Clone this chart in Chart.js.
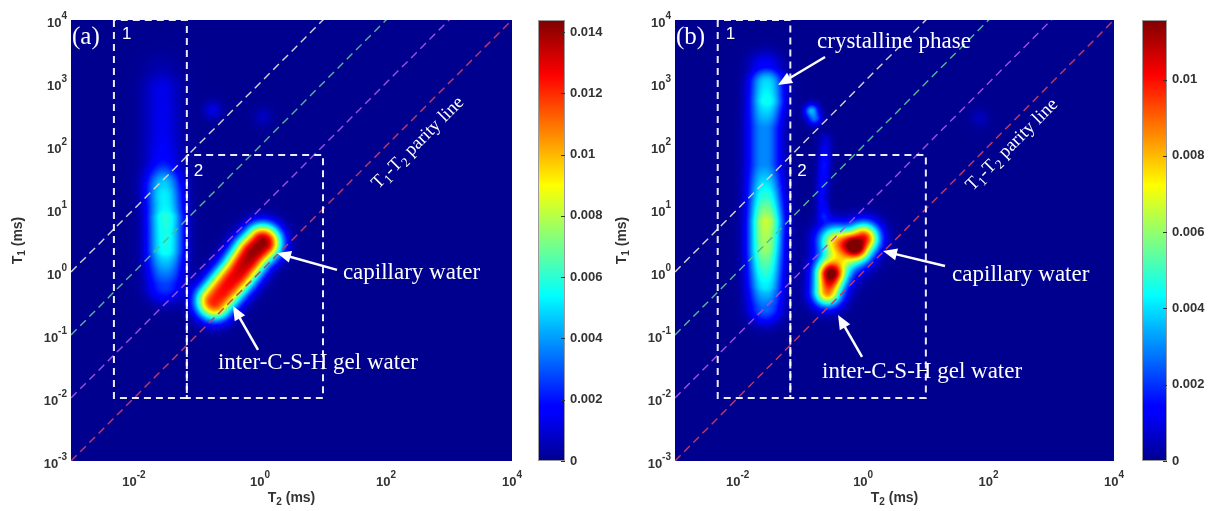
<!DOCTYPE html>
<html>
<head>
<meta charset="utf-8">
<script src="https://cdn.jsdelivr.net/npm/chart.js@4.4.1/dist/chart.umd.min.js"></script>
<style>
html, body { margin: 0; padding: 0; background: #fff; }
#wrap { position: relative; width: 1210px; height: 511px; overflow: hidden; }
canvas { position: absolute; top: 0; }
</style>
</head>
<body>
<div id="wrap">
  <canvas id="mapA" width="530" height="511" style="left:0px"></canvas>
  <canvas id="barA" width="85" height="511" style="left:530px"></canvas>
  <canvas id="mapB" width="528" height="511" style="left:604px"></canvas>
  <canvas id="barB" width="76" height="511" style="left:1134px"></canvas>
</div>
<script>
// ---- axes (ms) ----
const axisMin = 1e-3, axisMax = 1e4;
const t2Ticks = [1e-2, 1, 1e2, 1e4];
const t1Ticks = [1e-3, 1e-2, 1e-1, 1, 1e1, 1e2, 1e3, 1e4];

// ---- colour bars ----
const cbarMaxA = 0.01439;
const cbarTicksA = [0, 0.002, 0.004, 0.006, 0.008, 0.01, 0.012, 0.014];
const cbarMaxB = 0.01156;
const cbarTicksB = [0, 0.002, 0.004, 0.006, 0.008, 0.01];

// ---- reference lines T1 = k * T2 ----
const parityRatios = [1, 10, 100, 1000];
const parityColors = ['#c9385f', '#a24ee0', '#52b994', '#d6d6d6'];

// ---- dashed regions (T2 range, T1 range) ----
const region1T2 = [0.0048, 0.069], region1T1 = [0.01, 1e4];
const region2T2 = [0.069, 10],     region2T1 = [0.01, 72];

// ---- signal ridges: [log10 T2, log10 T1, amplitude] along each ridge ----
const ridgeA_main   = [[-0.72, -0.46, 0.0122], [-0.35, -0.02, 0.0131], [-0.12, 0.30, 0.0141], [0.04, 0.46, 0.0142]];
const ridgeA_col1   = [[-1.51, -0.2, 0.0026], [-1.50, 0.35, 0.0056], [-1.50, 0.85, 0.0058], [-1.53, 1.35, 0.0028]];
const ridgeA_tail   = [[-1.53, 1.35, 0.0020], [-1.55, 2.2, 0.0014], [-1.56, 2.9, 0.0013], [-1.57, 3.15, 0.0005]];
const spotA_1       = [[-0.75, 2.57, 0.0012]];
const spotA_2       = [[0.05, 2.46, 0.0007]];

const lobeB_low     = [[-0.57, -0.32, 0.0082], [-0.53, -0.06, 0.0084]];
const lobeB_high    = [[-0.08, 0.44, 0.0090], [0.02, 0.54, 0.0088]];
const bridgeB       = [[-0.45, 0.05, 0.0045], [-0.20, 0.32, 0.0045]];
const fillB         = [[-0.48, 0.50, 0.0058]];
const ridgeB_col1   = [[-1.56, -0.55, 0.0026], [-1.56, -0.2, 0.0042], [-1.56, 0.35, 0.0060], [-1.55, 0.8, 0.0066],
                       [-1.56, 1.2, 0.0048], [-1.58, 1.7, 0.0030], [-1.58, 2.3, 0.0030], [-1.54, 2.72, 0.0045],
                       [-1.54, 2.98, 0.0040], [-1.56, 3.22, 0.0014]];
const spotB_small   = [[-0.82, 2.55, 0.0036], [-0.78, 2.45, 0.0028]];
const streakB       = [[-0.60, 2.1, 0.0008], [-0.62, 1.7, 0.0016], [-0.66, 1.2, 0.0012], [-0.63, 0.9, 0.0014]];
const spotB_far     = [[1.86, 2.44, 0.0005]];

// spread (decades) and profile shape of each ridge
const featuresA = [
  { pts: ridgeA_main, s: 0.21, p: 1.2 },
  { pts: ridgeA_col1, s: 0.2, p: 1.2 },
  { pts: ridgeA_tail, s: 0.2, p: 1 },
  { pts: spotA_1, s: 0.1, p: 1 },
  { pts: spotA_2, s: 0.1, p: 1 }
];
const featuresB = [
  { pts: lobeB_low, s: 0.16, p: 1 },
  { pts: lobeB_high, s: 0.17, p: 1 },
  { pts: bridgeB, s: 0.2, p: 1 },
  { pts: fillB, s: 0.18, p: 1 },
  { pts: ridgeB_col1, s: 0.19, p: 1.2 },
  { pts: spotB_small, s: 0.08, p: 1 },
  { pts: streakB, s: 0.07, p: 1 },
  { pts: spotB_far, s: 0.1, p: 1 }
];

// ---- annotations (T2, T1 in ms) ----
const notesA = [
  { text: 'capillary water', at: [20.7, 0.964], tail: [16.7, 1.08], head: [1.86, 2.0] },
  { text: 'inter-C-S-H gel water', at: [0.215, 0.036], tail: [0.93, 0.058], head: [0.372, 0.288] }
];
const notesB = [
  { text: 'crystalline phase', at: [0.184, 4477], tail: [0.247, 2588], head: [0.044, 929] },
  { text: 'capillary water', at: [26.2, 0.895], tail: [20.2, 1.245], head: [2.07, 2.15] },
  { text: 'inter-C-S-H gel water', at: [0.221, 0.0259], tail: [0.96, 0.0448], head: [0.398, 0.207] }
];
const parityLabelA = [322, 112];
const parityLabelB = [237, 104];

const SERIF = '"Liberation Serif", "Times New Roman", serif';
const SANS = '"Liberation Sans", Arial, sans-serif';
const TEXT_GREY = '#333333';

function clamp01(v) { return v < 0 ? 0 : v > 1 ? 1 : v; }

// MATLAB-like jet
function jet(v) {
  v = clamp01(v);
  const r = clamp01(Math.min(4 * v - 1.5, -4 * v + 4.5));
  const g = clamp01(Math.min(4 * v - 0.5, -4 * v + 3.5));
  const b = clamp01(Math.min(4 * v + 0.5625, -4 * v + 2.5));
  return [Math.round(r * 255), Math.round(g * 255), Math.round(b * 255)];
}

// sum of ridges; along one ridge the nearest segment counts
function fieldAt(features, lx, ly) {
  let total = 0;
  for (const f of features) {
    const pts = f.pts, s2 = 2 * f.s * f.s, p = f.p;
    let best = 0;
    if (pts.length === 1) {
      const d2 = (lx - pts[0][0]) ** 2 + (ly - pts[0][1]) ** 2;
      best = pts[0][2] * Math.exp(-Math.pow(d2 / s2, p));
    }
    for (let k = 0; k < pts.length - 1; k++) {
      const x0 = pts[k][0], y0 = pts[k][1], a0 = pts[k][2];
      const x1 = pts[k + 1][0], y1 = pts[k + 1][1], a1 = pts[k + 1][2];
      const dx = x1 - x0, dy = y1 - y0;
      let t = ((lx - x0) * dx + (ly - y0) * dy) / (dx * dx + dy * dy);
      t = t < 0 ? 0 : t > 1 ? 1 : t;
      const d2 = (lx - x0 - t * dx) ** 2 + (ly - y0 - t * dy) ** 2;
      const v = (a0 + t * (a1 - a0)) * Math.exp(-Math.pow(d2 / s2, p));
      if (v > best) best = v;
    }
    total += best;
  }
  return total;
}

function heatmapPlugin(features, vmax) {
  let cache = null;
  return {
    id: 'heatmap',
    beforeDatasetsDraw(chart) {
      const a = chart.chartArea, sx = chart.scales.x, sy = chart.scales.y;
      const w = Math.round(a.right - a.left), h = Math.round(a.bottom - a.top);
      if (!cache) {
        const xs = [], ys = [];
        for (let i = 0; i < w; i++) xs.push(Math.log10(sx.getValueForPixel(a.left + i + 0.5)));
        for (let j = 0; j < h; j++) ys.push(Math.log10(sy.getValueForPixel(a.top + j + 0.5)));
        cache = document.createElement('canvas');
        cache.width = w; cache.height = h;
        const cctx = cache.getContext('2d');
        const img = cctx.createImageData(w, h);
        for (let j = 0; j < h; j++) {
          for (let i = 0; i < w; i++) {
            const c = jet(fieldAt(features, xs[i], ys[j]) / vmax);
            const o = (j * w + i) * 4;
            img.data[o] = c[0]; img.data[o + 1] = c[1]; img.data[o + 2] = c[2]; img.data[o + 3] = 255;
          }
        }
        cctx.putImageData(img, 0, 0);
      }
      chart.ctx.drawImage(cache, a.left, a.top);
    }
  };
}

// segs: [text, kind] kind 0 normal, 1 subscript, -1 superscript
function drawRich(ctx, segs, x, y, size, family, weight, align, ratio) {
  ratio = ratio || 0.7;
  const parts = segs.map(([t, k]) => {
    const fs = k ? Math.round(size * ratio) : size;
    ctx.font = `${weight} ${fs}px ${family}`;
    return { t, k, fs, w: ctx.measureText(t).width };
  });
  const total = parts.reduce((s, p) => s + p.w, 0);
  let cx = align === 'center' ? x - total / 2 : align === 'right' ? x - total : x;
  ctx.textBaseline = 'middle';
  ctx.textAlign = 'left';
  parts.forEach(p => {
    ctx.font = `${weight} ${p.fs}px ${family}`;
    const dy = p.k === 1 ? size * 0.3 : p.k === -1 ? -size * 0.5 : 0;
    ctx.fillText(p.t, cx, y + dy);
    cx += p.w;
  });
}

function powLabel(v) {
  return [['10', 0], [String(Math.round(Math.log10(v))), -1]];
}

const axisTextPlugin = {
  id: 'axisText',
  afterDraw(chart) {
    const { ctx, chartArea: a, scales: { x, y } } = chart;
    ctx.save();
    ctx.fillStyle = TEXT_GREY;
    x.ticks.forEach(t => drawRich(ctx, powLabel(t.value), x.getPixelForValue(t.value), a.bottom + 21, 13, SANS, 'bold', 'center', 0.75));
    y.ticks.forEach(t => drawRich(ctx, powLabel(t.value), a.left - 4, y.getPixelForValue(t.value) + 3, 13, SANS, 'bold', 'right', 0.75));
    drawRich(ctx, [['T', 0], ['2', 1], [' (ms)', 0]], (a.left + a.right) / 2, a.bottom + 37, 14, SANS, 'bold', 'center');
    ctx.translate(a.left - 53, (a.top + a.bottom) / 2);
    ctx.rotate(-Math.PI / 2);
    drawRich(ctx, [['T', 0], ['1', 1], [' (ms)', 0]], 0, 0, 14, SANS, 'bold', 'center');
    ctx.restore();
  }
};

function drawArrow(ctx, x0, y0, x1, y1) {
  const ang = Math.atan2(y1 - y0, x1 - x0), L = 14, W = 6;
  const bx = x1 - L * Math.cos(ang), by = y1 - L * Math.sin(ang);
  ctx.lineWidth = 2.5;
  ctx.beginPath();
  ctx.moveTo(x0, y0);
  ctx.lineTo(x1 - 0.7 * L * Math.cos(ang), y1 - 0.7 * L * Math.sin(ang));
  ctx.stroke();
  ctx.beginPath();
  ctx.moveTo(x1, y1);
  ctx.lineTo(bx + W * Math.sin(ang), by - W * Math.cos(ang));
  ctx.lineTo(bx - W * Math.sin(ang), by + W * Math.cos(ang));
  ctx.closePath();
  ctx.fill();
}

function notePlugin(tag, notes, parityAt) {
  return {
    id: 'notes',
    afterDatasetsDraw(chart) {
      const { ctx, chartArea: a, scales: { x, y } } = chart;
      ctx.save();
      ctx.fillStyle = '#ffffff';
      ctx.strokeStyle = '#ffffff';
      // panel tag and region numbers
      drawRich(ctx, [[tag, 0]], a.left + 1, a.top + 17, 25, SERIF, 'normal', 'left');
      drawRich(ctx, [['1', 0]], x.getPixelForValue(region1T2[0]) + 8, y.getPixelForValue(region1T1[1]) + 14, 17, SANS, 'normal', 'left');
      drawRich(ctx, [['2', 0]], x.getPixelForValue(region2T2[0]) + 7, y.getPixelForValue(region2T1[1]) + 16, 17, SANS, 'normal', 'left');
      notes.forEach(n => {
        drawRich(ctx, [[n.text, 0]], x.getPixelForValue(n.at[0]), y.getPixelForValue(n.at[1]), 23, SERIF, 'normal', 'left');
        drawArrow(ctx, x.getPixelForValue(n.tail[0]), y.getPixelForValue(n.tail[1]),
                  x.getPixelForValue(n.head[0]), y.getPixelForValue(n.head[1]));
      });
      ctx.translate(x.getPixelForValue(parityAt[0]), y.getPixelForValue(parityAt[1]));
      ctx.rotate(-Math.PI / 4);
      drawRich(ctx, [['T', 0], ['1', 1], ['-T', 0], ['2', 1], [' parity line', 0]], 0, 0, 18.5, SERIF, 'normal', 'center');
      ctx.restore();
    }
  };
}

function boxData(t2, t1) {
  return [
    { x: t2[0], y: t1[1] }, { x: t2[0], y: t1[0] }, { x: t2[1], y: t1[0] },
    { x: t2[1], y: t1[1] }, { x: t2[0], y: t1[1] }
  ];
}

function buildMap(id, features, vmax, tag, notes, parityAt) {
  const datasets = [];
  // regions first so they are drawn on top
  datasets.push({ data: boxData(region2T2, region2T1), borderColor: 'rgba(255,255,255,0.92)', borderWidth: 2, borderDash: [7, 5] });
  datasets.push({ data: boxData(region1T2, region1T1), borderColor: 'rgba(255,255,255,0.92)', borderWidth: 2, borderDash: [7, 5] });
  parityRatios.forEach((k, i) => datasets.push({
    data: [axisMin, axisMax].map(t => ({ x: t, y: k * t })),
    borderColor: parityColors[i], borderWidth: 1.4, borderDash: [8, 5]
  }));
  datasets.forEach(d => { d.showLine = true; d.pointRadius = 0; d.fill = false; d.tension = 0; });

  return new Chart(document.getElementById(id), {
    type: 'scatter',
    data: { datasets },
    options: {
      responsive: false,
      animation: false,
      devicePixelRatio: 1,
      events: [],
      layout: { padding: { left: 0, top: 20, right: 18, bottom: 0 } },
      plugins: { legend: { display: false }, tooltip: { enabled: false } },
      scales: {
        x: {
          type: 'logarithmic', min: axisMin, max: axisMax,
          grid: { display: false }, border: { display: false }, ticks: { display: false },
          afterBuildTicks: s => { s.ticks = t2Ticks.map(v => ({ value: v })); },
          afterFit: s => { s.height = 50; }
        },
        y: {
          type: 'logarithmic', min: axisMin, max: axisMax,
          grid: { display: false }, border: { display: false }, ticks: { display: false },
          afterBuildTicks: s => { s.ticks = t1Ticks.map(v => ({ value: v })); },
          afterFit: s => { s.width = 71; }
        }
      }
    },
    plugins: [heatmapPlugin(features, vmax), notePlugin(tag, notes, parityAt), axisTextPlugin]
  });
}

function colorbarPlugin(vmax) {
  return {
    id: 'cbar',
    beforeDatasetsDraw(chart) {
      const { ctx, chartArea: a, scales: { y } } = chart;
      const y0 = y.getPixelForValue(0), y1 = y.getPixelForValue(vmax);
      const g = ctx.createLinearGradient(0, y0, 0, y1);
      for (let i = 0; i <= 64; i++) {
        const c = jet(i / 64);
        g.addColorStop(i / 64, `rgb(${c[0]},${c[1]},${c[2]})`);
      }
      ctx.save();
      ctx.fillStyle = g;
      ctx.fillRect(a.left, y1, a.right - a.left, y0 - y1);
      ctx.strokeStyle = '#9a9a9a';
      ctx.lineWidth = 1;
      ctx.strokeRect(a.left + 0.5, y1 + 0.5, a.right - a.left - 1, y0 - y1 - 1);
      ctx.strokeStyle = '#333';
      y.ticks.forEach(t => {
        const p = Math.round(y.getPixelForValue(t.value)) + 0.5;
        ctx.beginPath(); ctx.moveTo(a.right - 4, p); ctx.lineTo(a.right, p); ctx.stroke();
      });
      ctx.restore();
    }
  };
}

function buildBar(id, vmax, ticks, axisWidth) {
  return new Chart(document.getElementById(id), {
    type: 'scatter',
    data: { datasets: [] },
    options: {
      responsive: false,
      animation: false,
      devicePixelRatio: 1,
      events: [],
      layout: { padding: { left: 8, top: 20, right: 0, bottom: 50 } },
      plugins: { legend: { display: false }, tooltip: { enabled: false } },
      scales: {
        x: { display: false, min: 0, max: 1 },
        y: {
          position: 'right', min: 0, max: vmax,
          grid: { display: false, drawTicks: false }, border: { display: false },
          afterBuildTicks: s => { s.ticks = ticks.map(v => ({ value: v })); },
          afterFit: s => { s.width = axisWidth; },
          ticks: {
            padding: 5, color: TEXT_GREY, autoSkip: false,
            font: { family: SANS, size: 13, weight: 'bold' },
            callback: v => String(+v.toFixed(3))
          }
        }
      }
    },
    plugins: [colorbarPlugin(vmax)]
  });
}

buildMap('mapA', featuresA, cbarMaxA, '(a)', notesA, parityLabelA);
buildBar('barA', cbarMaxA, cbarTicksA, 50);
buildMap('mapB', featuresB, cbarMaxB, '(b)', notesB, parityLabelB);
buildBar('barB', cbarMaxB, cbarTicksB, 43);
</script>
</body>
</html>
